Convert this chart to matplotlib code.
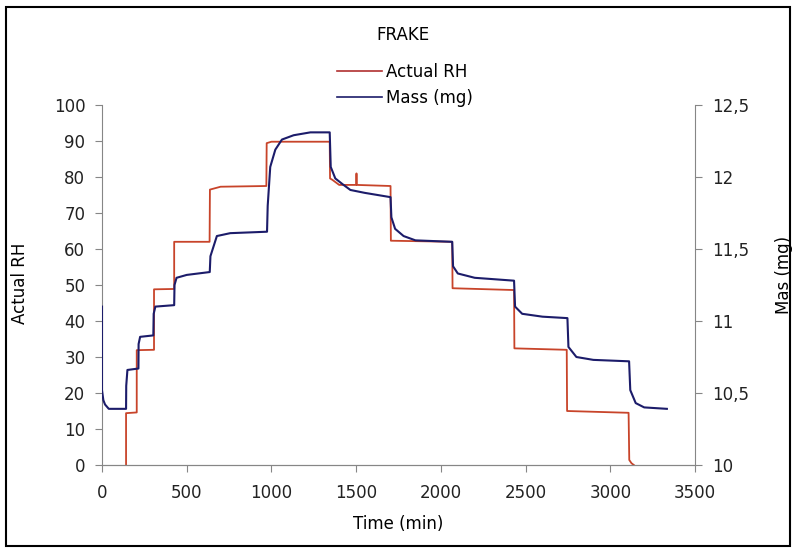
import numpy as np
import matplotlib
matplotlib.use("Agg")
import matplotlib.pyplot as plt
from matplotlib.patches import Rectangle
from matplotlib.lines import Line2D

plt.rcParams['font.family'] = ['DejaVu Sans']

# Actual RH (step profile)
rh_time = [142, 142, 205, 205, 307, 307, 426, 426, 635, 637, 700, 970, 972, 1000, 1344,
           1346, 1360, 1400, 1500, 1502, 1504, 1703, 1705, 2067, 2069, 2432, 2434,
           2743, 2745, 3108, 3112, 3125, 3139]
rh_value = [0, 14.4, 14.6, 31.9, 32.0, 48.8, 48.9, 62.0, 62.0, 76.5, 77.3, 77.5, 89.4, 89.8, 89.8,
            79.6, 79.2, 77.8, 77.8, 81.0, 77.8, 77.5, 62.3, 62.0, 49.1, 48.6, 32.4,
            32.0, 15.0, 14.5, 1.4, 0.5, 0]

# Mass (mg)
mass_time = [0, 0, 8, 18, 40, 142, 143, 150, 215, 216, 225, 303, 305, 315, 426,
             428, 440, 500, 636, 640, 678, 757, 974, 978, 993, 1023, 1062, 1131, 1230, 1344,
             1350, 1377, 1420, 1466, 1550, 1703, 1708, 1730, 1780, 1850, 2067,
             2072, 2100, 2200, 2432, 2438, 2480, 2600, 2747, 2753, 2800, 2900, 3111,
             3118, 3150, 3200, 3334]
mass_value = [11.10, 10.52, 10.45, 10.42, 10.39, 10.39, 10.55, 10.66, 10.67, 10.84, 10.89, 10.90, 11.05, 11.10, 11.11,
              11.25, 11.30, 11.32, 11.34, 11.45, 11.59, 11.61, 11.62, 11.80, 12.07, 12.19, 12.26, 12.29, 12.31, 12.31,
              12.07, 11.99, 11.95, 11.91, 11.89, 11.86, 11.72, 11.64, 11.59, 11.56, 11.55,
              11.38, 11.33, 11.30, 11.28, 11.10, 11.05, 11.03, 11.02, 10.82, 10.75, 10.73, 10.72,
              10.52, 10.43, 10.40, 10.39]

x_ticks = [0, 500, 1000, 1500, 2000, 2500, 3000, 3500]
rh_ticks = [0, 10, 20, 30, 40, 50, 60, 70, 80, 90, 100]
mass_ticks = [10, 10.5, 11, 11.5, 12, 12.5]
mass_tick_labels = ['10', '10,5', '11', '11,5', '12', '12,5']

rh_color = "#c8442a"
mass_color = "#1c1c6a"
axis_gray = "#868686"
fs = 12

fig = plt.figure(figsize=(7.93, 5.53), dpi=100)
ax = fig.add_axes([102/793, 1-465/553, (695-102)/793, (465-105)/553])
ax2 = ax.twinx()

ax.plot(rh_time, rh_value, color=rh_color, lw=1.3)
ax2.plot(mass_time, mass_value, color=mass_color, lw=1.5)

ax.set_xlim(0, 3500)
ax.set_ylim(0, 100)
ax2.set_ylim(10, 12.5)
ax.set_xticks(x_ticks)
ax.set_yticks(rh_ticks)
ax2.set_yticks(mass_ticks)
ax2.set_yticklabels(mass_tick_labels)

for a in (ax, ax2):
    a.spines['top'].set_visible(False)
    for s in ('left', 'right', 'bottom'):
        a.spines[s].set_color(axis_gray)
    a.tick_params(direction='out', length=5, color=axis_gray, labelsize=fs, labelcolor='#222222')
ax.spines['right'].set_visible(False)
ax2.spines['left'].set_visible(False)
ax.tick_params(axis='x', pad=9)
ax.tick_params(axis='y', pad=7)
ax2.tick_params(axis='y', pad=7)

ax.set_xlabel("Time (min)", fontsize=fs, labelpad=9)
fig.text(20/793, 1-283/553, "Actual RH", rotation=90, ha='center', va='center', fontsize=fs)
fig.text(784/793, 1-275/553, "Mas (mg)", rotation=90, ha='center', va='center', fontsize=fs)
fig.text(403/793, 1-35/553, "FRAKE", ha='center', va='center', fontsize=fs)

handles = [Line2D([], [], color="#b03030", lw=1.2), Line2D([], [], color=mass_color, lw=1.2)]
fig.legend(handles, ["Actual RH", "Mass (mg)"], loc='center', bbox_to_anchor=(405/793, 1-85/553),
           frameon=False, fontsize=fs, handlelength=2.7, handletextpad=0.2, labelspacing=0.5)

fig.patches.append(Rectangle((6/793, 7/553), 784/793, 539/553, fill=False,
                             edgecolor='black', lw=1.5, transform=fig.transFigure))

fig.savefig("out.png", dpi=100)
plt.close()
